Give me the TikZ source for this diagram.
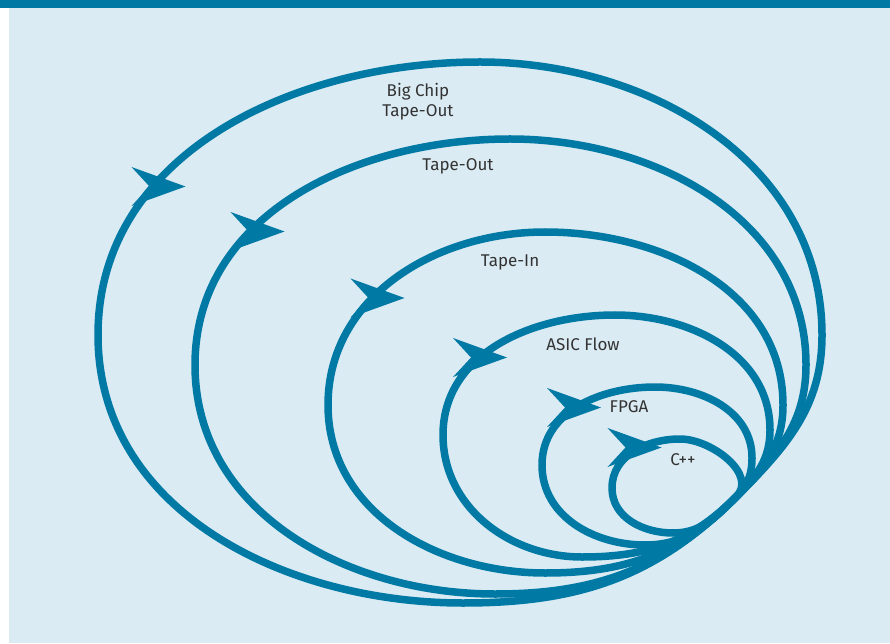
\documentclass[tikz,border=0pt]{standalone}
\usepackage{fontspec}
\setmainfont{Fira Sans}
\definecolor{loopc}{HTML}{0079A5}
\definecolor{panel}{HTML}{DAEBF3}
\definecolor{txt}{HTML}{333333}
\begin{document}
\begin{tikzpicture}[x=1pt,y=1pt,
  loopline/.style={draw=loopc, line width=7.5pt, line join=round},
  lbl/.style={text=txt, font=\fontsize{17}{20.5}\selectfont, align=center, inner sep=0pt},
  arrowmark/.pic={\fill[loopc] (0,19.5) -- (54,0) -- (0,-19.5) -- (18,0) -- cycle;}
]
\useasboundingbox (0,0) rectangle (890,643);
\fill[white] (0,0) rectangle (890,643);
\fill[panel] (9,0) rectangle (890,635);
\fill[loopc] (0,635) rectangle (890,643);

\coordinate (M) at (736,146);
% loop 1 Big Chip Tape-Out
\draw[loopline] (M) to[out=225,in=0] (463,40) to[out=180,in=270] (98,308)
  to[out=90,in=180] (480,581) to[out=0,in=90] (822,308) to[out=270,in=45] (M);
% loop 2 Tape-Out
\draw[loopline] (M) to[out=225,in=0] (495,49) to[out=180,in=270] (195,278)
  to[out=90,in=180] (510,504) to[out=0,in=90] (806,278) to[out=270,in=45] (M);
% loop 3 Tape-In
\draw[loopline] (M) to[out=225,in=0] (545,70) to[out=180,in=270] (328,238)
  to[out=90,in=180] (545,411) to[out=0,in=90] (783,238) to[out=270,in=45] (M);
% loop 4 ASIC Flow
\draw[loopline] (M) to[out=225,in=0] (582,86) to[out=180,in=270] (443,208)
  to[out=90,in=180] (615,328) to[out=0,in=90] (770,213) to[out=270,in=45] (M);
% loop 5 FPGA
\draw[loopline] (M) to[out=225,in=0] (645,98) to[out=180,in=270] (542,178)
  to[out=90,in=180] (655,256) to[out=0,in=90] (752,185) to[out=270,in=45] (M);
% loop 6 C++
\draw[loopline] (M) to[out=225,in=0] (673,110) to[out=180,in=270] (612,155)
  to[out=90,in=180] (680,204) to[out=0,in=45] (M);

\pic at (131.5,456.5) {arrowmark};
\pic at (230.5,411.5) {arrowmark};
\pic at (350.5,345) {arrowmark};
\pic at (453,285.5) {arrowmark};
\pic at (547,235.5) {arrowmark};
\pic at (607.5,195.5) {arrowmark};

\node[lbl] (l1) at (418,541.5) {Big Chip\\Tape-Out};
\node[lbl] (l2) at (458,477) {Tape-Out};
\node[lbl] (l3) at (510,381) {Tape-In};
\node[lbl] (l4) at (583,299) {ASIC Flow};
\node[lbl] (l5) at (629,236) {FPGA};
\node[lbl] (l6) at (683,183) {C++};
\end{tikzpicture}
\end{document}
